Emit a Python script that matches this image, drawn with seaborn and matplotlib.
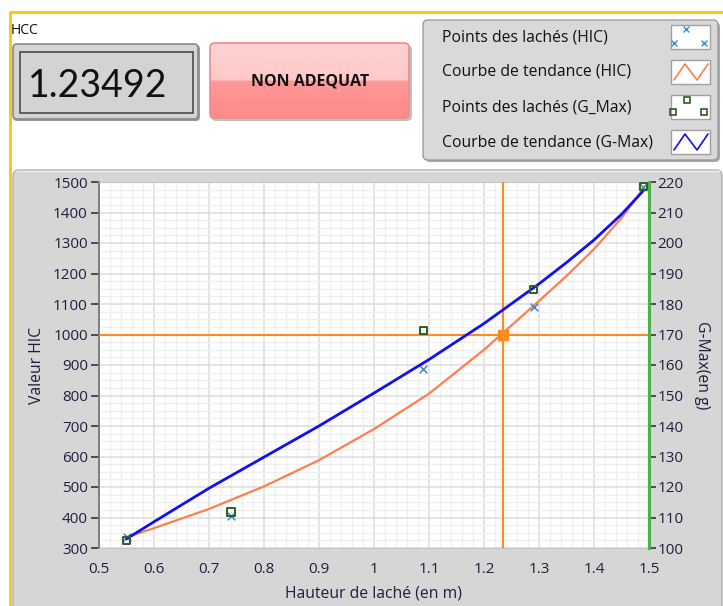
import numpy as np
import seaborn as sns
import matplotlib.pyplot as plt
from matplotlib.patches import FancyBboxPatch, Rectangle
from matplotlib.lines import Line2D
from matplotlib.transforms import IdentityTransform
from matplotlib.ticker import MultipleLocator

# drop points (hauteur in m)
hauteur = [0.55, 0.74, 1.09, 1.29, 1.49]
hic = [337, 405, 887, 1090, 1485]
gmax = [102.6, 111.8, 171.4, 184.9, 218.4]

# trend curves
x_trend = [0.55, 0.6, 0.7, 0.8, 0.9, 1.0, 1.1, 1.2, 1.3, 1.35, 1.4, 1.45, 1.49]
hic_trend = [336, 365, 428, 502, 588, 690, 806, 950, 1110, 1192, 1280, 1382, 1478]
gmax_trend = [103.0, 108.6, 119.6, 129.8, 140.0, 150.8, 161.8, 173.6, 186.6,
              193.6, 201.0, 209.4, 217.2]

hcc = 1.23492
hic_seuil = 1000
verdict = "NON ADEQUAT"
legend_labels = ["Points des lachés (HIC)", "Courbe de tendance (HIC)",
                 "Points des lachés (G_Max)", "Courbe de tendance (G-Max)"]

W, H = 723, 606
ORANGE = "#FF8A1E"
CORAL = "#FF7F4A"
BLUE = "#1010F0"
XBLUE = "#3C8DC8"
GREEN = "#2E5E1E"
TXT = "#1E2040"

sns.set_style("white")
plt.rcParams["font.family"] = ["Open Sans", "DejaVu Sans"]

fig = plt.figure(figsize=(W / 100, H / 100), dpi=100)
fig.patch.set_facecolor("white")
ident = IdentityTransform()


def box(x0, y0, x1, y1, fc, ec, lw=1.0, r=4, z=-2):
    p = FancyBboxPatch((x0, H - y1), x1 - x0, y1 - y0,
                       boxstyle=f"round,pad=0,rounding_size={r}",
                       transform=ident, fc=fc, ec=ec, lw=lw, zorder=z)
    fig.add_artist(p)


def line(xs, ys, **kw):
    fig.add_artist(Line2D(xs, [H - y for y in ys], transform=ident, **kw))


# orange frame
line([10, 10, W], [H, 12, 12], color="#FFC20E", lw=2, zorder=-3)

# HCC indicator
fig.text(11 / W, 1 - 30 / H, "HCC", fontsize=10, color="#111", va="center")
box(13, 45, 200, 121, "#9A9A9A", "none", r=4, z=-3)
box(13, 44, 198, 119, "#D4D4D4", "#8A8A8A", lw=1.2, r=4)
box(20, 52, 193, 113, "#D3D3D3", "#4A4A4A", lw=1.2, r=0, z=-1)
fig.text(28 / W, 1 - 86 / H, f"{hcc:.5f}", fontsize=27, color="#111",
         va="center", ha="left", family=["Lato", "DejaVu Sans"])

# verdict button with gradient
box(211, 45, 412, 121, "#C0C0C0", "none", r=5, z=-3)
bax = fig.add_axes([210 / W, 1 - 118 / H, 199 / W, 75 / H], zorder=1)
grad = np.concatenate([np.linspace(0.0, 0.12, 40), np.linspace(0.45, 0.62, 40)])
cmap = sns.blend_palette(["#FFD2D2", "#FFC2C2", "#FF9C9C", "#FF8A8A"], as_cmap=True)
bax.imshow(grad[:, None], aspect="auto", cmap=cmap, vmin=0, vmax=0.62)
bax.axis("off")
box(210, 43, 409, 118, "none", "#F08A8A", lw=1.2, r=5, z=2)
fig.text(310 / W, 1 - 81 / H, verdict, fontsize=11.5, fontweight="bold",
         color="#111", ha="center", va="center", zorder=3)

# legend panel
box(425, 22, 720, 162, "#A8A8A8", "none", r=5, z=-3)
box(423, 20, 718, 160, "#D9D9D9", "#9C9C9C", lw=1, r=5)
rows = [37, 72, 107, 142]
for yc, lab in zip(rows, legend_labels):
    fig.text(442 / W, 1 - yc / H, lab, fontsize=11.3, color="#111", va="center")
    fig.add_artist(Rectangle((671, H - yc - 12), 39, 24, transform=ident,
                             fc="white", ec="#A0A0A0", lw=1, zorder=-1))
# icon 1: x markers
line([674, 686, 704], [rows[0] + 6, rows[0] - 8, rows[0] + 6],
     color=XBLUE, lw=0, marker="x", ms=4, mew=1)
# icon 2 and 4: zigzags
for yc, c in [(rows[1], CORAL), (rows[3], BLUE)]:
    line([674, 685, 697, 708], [yc + 8, yc - 8, yc + 8, yc - 8], color=c, lw=1.2)
# icon 3: squares
line([673, 687, 704], [rows[2] + 5, rows[2] - 7, rows[2] + 5], color=GREEN,
     lw=0, marker="s", ms=4, mfc="none", mew=1.2)

# graph panel
box(13, 170, 722, 612, "#D6D6D6", "#B0B0B0", lw=1, r=6)
line([16, 719], [171, 171], color="#EEEEEE", lw=1, zorder=-1)

# plot area
ax = fig.add_axes([99 / W, 1 - 548 / H, 550 / W, 366 / H], zorder=2)
ax.set_facecolor("white")
ax.set_xlim(0.5, 1.5)
ax.set_ylim(300, 1500)
ax.xaxis.set_major_locator(MultipleLocator(0.1))
ax.xaxis.set_minor_locator(MultipleLocator(0.02))
ax.yaxis.set_major_locator(MultipleLocator(100))
ax.yaxis.set_minor_locator(MultipleLocator(25))
ax.grid(which="minor", color="#EFEFEF", lw=0.9)
ax.grid(which="major", color="#DCDCDC", lw=1.1)
ax.set_axisbelow(True)

ax.axvline(hcc, color=ORANGE, lw=1.5, zorder=3)
ax.axhline(hic_seuil, color=ORANGE, lw=1.5, zorder=3)
ax.plot([hcc], [hic_seuil], marker="s", ms=7, color=ORANGE, zorder=6)

sns.lineplot(x=x_trend, y=hic_trend, ax=ax, color=CORAL, lw=1.6,
             estimator=None, sort=False, zorder=4)
sns.scatterplot(x=hauteur, y=hic, ax=ax, marker="x", color=XBLUE, s=30,
                linewidth=1.1, zorder=5)

ax2 = ax.twinx()
ax2.set_ylim(100, 220)
ax2.yaxis.set_major_locator(MultipleLocator(10))
sns.lineplot(x=x_trend, y=gmax_trend, ax=ax2, color=BLUE, lw=2.0,
             estimator=None, sort=False, zorder=4)
ax2.scatter(hauteur, gmax, marker="s", s=26, facecolors="none",
            edgecolors=GREEN, linewidths=1.4, zorder=5)

# axes styling
ax.set_xticks(np.arange(0.5, 1.51, 0.1))
ax.set_xticklabels(["0.5", "0.6", "0.7", "0.8", "0.9", "1", "1.1", "1.2", "1.3", "1.4", "1.5"])
ax.tick_params(axis="x", which="major", direction="out", length=5, width=1.2,
               color="#333", pad=5, labelsize=11, labelcolor=TXT)
ax.tick_params(axis="y", which="major", direction="out", length=6, width=1.2,
               color="#333", pad=2, labelsize=11, labelcolor=TXT)
ax.tick_params(which="minor", length=0)
ax2.tick_params(axis="y", direction="out", length=5, width=1.2, color="#333",
                pad=1, labelsize=11, labelcolor=TXT)

for s in ["top", "bottom"]:
    ax.spines[s].set_color("#C4C4C4")
ax.spines["left"].set_color("#777777")
ax.spines["left"].set_linewidth(1.3)
ax.spines["right"].set_visible(False)
for s in ["left", "top", "bottom"]:
    ax2.spines[s].set_visible(False)
ax2.spines["right"].set_color("#4DB04D")
ax2.spines["right"].set_linewidth(2.2)

ax.set_xlabel("Hauteur de laché (en m)", fontsize=11.3, color=TXT)
ax.xaxis.label.set_va("center")
ax.xaxis.set_label_coords(0.5, -0.123)
ax.set_ylabel("Valeur HIC", fontsize=11.3, color=TXT)
ax.yaxis.label.set_va("center")
ax.yaxis.set_label_coords(-0.112, 0.5)
ax2.set_ylabel("G-Max(en g)", fontsize=11.3, color=TXT, rotation=270)
ax2.yaxis.label.set_va("center")
ax2.yaxis.set_label_coords(1.096, 0.5)

fig.savefig("out.png", dpi=100)
